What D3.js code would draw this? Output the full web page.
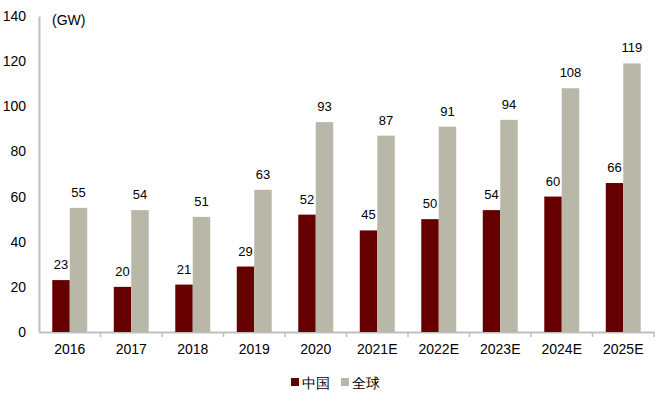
<!DOCTYPE html>
<html>
<head>
<meta charset="utf-8">
<script src="https://cdn.jsdelivr.net/npm/d3@7"></script>
<style>
  body { margin: 0; background: #fff; }
  svg text { font-family: "Liberation Sans", Arial, sans-serif; }
</style>
</head>
<body>
<svg></svg>
<script>
const width = 667;
const height = 398;

const categories = ['2016', '2017', '2018', '2019', '2020', '2021E', '2022E', '2023E', '2024E', '2025E'];
const chinaValues = [23, 20, 21, 29, 52, 45, 50, 54, 60, 66];
const globalValues = [55, 54, 51, 63, 93, 87, 91, 94, 108, 119];
const yTicks = [0, 20, 40, 60, 80, 100, 120, 140];
const seriesNames = ['中国', '全球'];
const colors = ['#660000', '#b9b8a8'];

const margin = { top: 16, right: 13, bottom: 66, left: 39 };

const svg = d3.select('svg')
    .attr('width', width)
    .attr('height', height);

const x = d3.scaleBand()
    .domain(categories)
    .range([margin.left, width - margin.right]);

const y = d3.scaleLinear()
    .domain([0, 140])
    .range([height - margin.bottom, margin.top]);

const inner = d3.scaleBand()
    .domain([0, 1])
    .range([0, x.bandwidth()])
    .paddingInner(0)
    .paddingOuter(0.76);

// y axis
const yAxis = svg.append('g')
    .attr('transform', `translate(${margin.left},0)`)
    .call(d3.axisLeft(y).tickValues(yTicks).tickSize(0).tickPadding(13));
yAxis.select('.domain').attr('stroke', '#bfbfbf').attr('stroke-width', 2);
yAxis.selectAll('text').attr('font-size', 14).attr('fill', '#000');

// x axis
const xAxis = svg.append('g')
    .attr('transform', `translate(0,${y(0)})`)
    .call(d3.axisBottom(x).tickSize(0).tickPadding(12));
xAxis.select('.domain').attr('stroke', '#bfbfbf').attr('stroke-width', 2);
xAxis.selectAll('text').attr('font-size', 14).attr('fill', '#000');
// tick marks between categories
xAxis.selectAll('line.sep')
    .data(categories)
    .enter()
    .append('line')
    .attr('class', 'sep')
    .attr('x1', d => x(d) + x.bandwidth())
    .attr('x2', d => x(d) + x.bandwidth())
    .attr('y1', 0)
    .attr('y2', 5)
    .attr('stroke', '#bfbfbf')
    .attr('stroke-width', 1.5);

svg.append('text')
    .attr('x', 52)
    .attr('y', 25)
    .attr('font-size', 14)
    .attr('fill', '#000')
    .text('(GW)');

const series = [chinaValues, globalValues];

series.forEach((vals, si) => {
    const g = svg.append('g');
    g.selectAll('rect')
        .data(categories)
        .enter()
        .append('rect')
        .attr('x', d => x(d) + inner(si))
        .attr('y', (d, i) => y(vals[i]))
        .attr('width', inner.bandwidth())
        .attr('height', (d, i) => y(0) - y(vals[i]))
        .attr('fill', colors[si]);
    g.selectAll('text')
        .data(categories)
        .enter()
        .append('text')
        .attr('x', d => x(d) + inner(si) + inner.bandwidth() / 2)
        .attr('y', (d, i) => y(vals[i]) - 11)
        .attr('text-anchor', 'middle')
        .attr('font-size', 13)
        .attr('fill', '#000')
        .text((d, i) => vals[i]);
});

// legend
const legend = svg.append('g').attr('transform', 'translate(291,382)');
const legendX = [0, 50];
seriesNames.forEach((name, i) => {
    legend.append('rect')
        .attr('x', legendX[i])
        .attr('y', -4)
        .attr('width', 8)
        .attr('height', 8)
        .attr('fill', colors[i]);
    legend.append('text')
        .attr('x', legendX[i] + 11)
        .attr('y', 5.5)
        .attr('font-size', 13.5)
        .attr('font-family', '"Noto Sans CJK SC", sans-serif')
        .attr('fill', '#000')
        .text(name);
});
</script>
</body>
</html>
